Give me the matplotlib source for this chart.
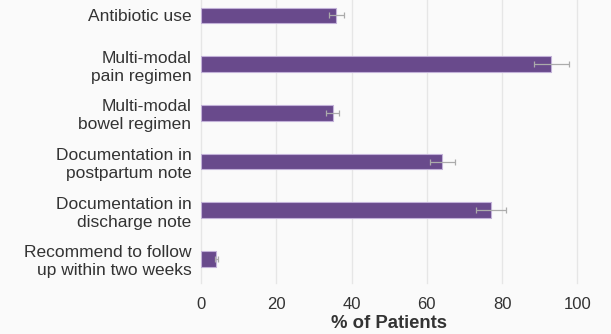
import matplotlib
matplotlib.use("Agg")
import matplotlib.pyplot as plt
import numpy as np

categories = [
    "Antibiotic use",
    "Multi-modal\npain regimen",
    "Multi-modal\nbowel regimen",
    "Documentation in\npostpartum note",
    "Documentation in\ndischarge note",
    "Recommend to follow\nup within two weeks",
]
percent = [36.0, 93.1, 35.0, 64.1, 77.1, 4.1]
err = [2.0, 4.7, 1.8, 3.3, 4.0, 0.3]
xticks = [0, 20, 40, 60, 80, 100]

plt.rcParams["font.family"] = ["Liberation Sans", "DejaVu Sans"]

W, H = 611, 334
fig = plt.figure(figsize=(W / 100, H / 100), dpi=100)
bg = "#fafafa"
fig.patch.set_facecolor(bg)

x0, x100 = 201.0, 577.3
xmax = 100
left = x0 / W
width = (x100 - x0) / W
bottom_px = 283.3
band = 48.7
ax = fig.add_axes([left, 1 - bottom_px / H, width, bottom_px / H])
ax.set_facecolor(bg)

y = np.arange(len(categories))
ax.barh(y, percent, height=0.32, color="#694a8c", edgecolor="#c2b1d8",
        linewidth=0.8, zorder=3)
ax.errorbar(percent, y, xerr=err, fmt="none", ecolor="#ababab",
            elinewidth=0.9, capsize=2, capthick=0.9, zorder=4)

ax.set_xlim(0, xmax)
ybot = 5.5
ax.set_ylim(ybot, ybot - bottom_px / band)
ax.set_yticks(y)
ax.set_yticklabels(categories, fontsize=12.5, color="#333333",
                   linespacing=1.25, ha="right")
ax.set_xticks(xticks)
ax.set_xticklabels([str(t) for t in xticks], fontsize=12, color="#333333")
ax.tick_params(axis="both", length=0)
ax.tick_params(axis="y", pad=7)
ax.tick_params(axis="x", pad=10)

ax.grid(axis="x", color="#e6e6e6", linewidth=1.0, zorder=0, clip_on=False)
ax.grid(axis="y", visible=False)
for line in ax.get_xgridlines():
    line.set_clip_on(False)
for s in ax.spines.values():
    s.set_visible(False)

ax.set_xlabel("% of Patients", fontsize=13.3, fontweight="bold",
              color="#333333", labelpad=2)

fig.savefig("out.png", dpi=100, facecolor=bg)
